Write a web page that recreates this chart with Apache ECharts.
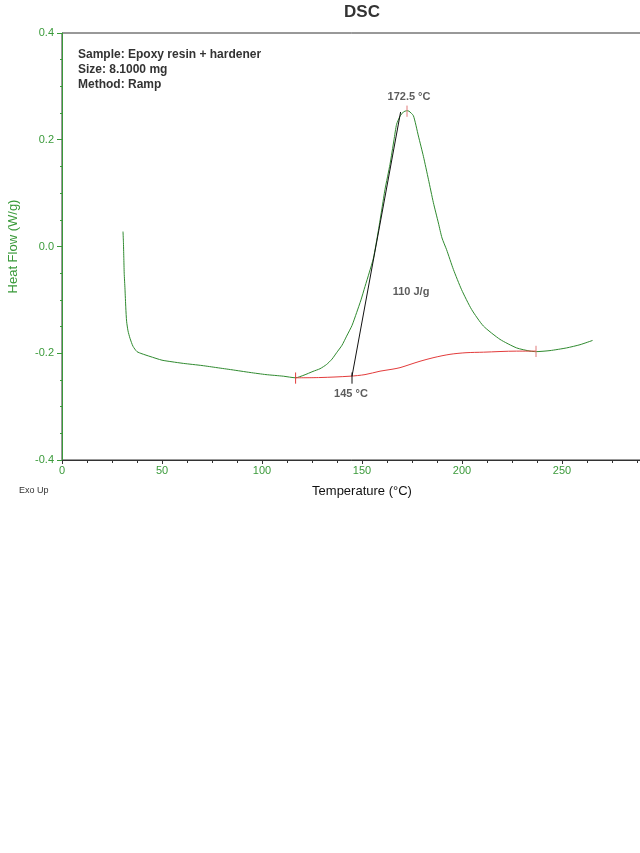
<!DOCTYPE html>
<html>
<head>
<meta charset="utf-8">
<script src="https://cdn.jsdelivr.net/npm/echarts@6/dist/echarts.min.js"></script>
<style>
  html, body { margin: 0; padding: 0; background: #fff; }
  #chart { width: 640px; height: 853px; }
</style>
</head>
<body>
<div id="chart"></div>
<script>
// ---- data ----
const chartTitle = 'DSC';
const xAxisName = 'Temperature (°C)';
const yAxisName = 'Heat Flow (W/g)';
const infoLines = ['Sample: Epoxy resin + hardener', 'Size: 8.1000 mg', 'Method: Ramp'];
const cornerNote = 'Exo Up';

// heat flow curve [temperature °C, heat flow W/g]
const heatFlow = [
  [30.5, 0.028], [30.7, 0.010], [30.9, -0.020], [31.1, -0.050], [31.5, -0.080],
  [31.9, -0.115], [32.3, -0.140], [33.0, -0.158], [34.0, -0.172], [35.5, -0.187],
  [37.5, -0.197], [40.0, -0.201], [44.0, -0.206], [50.0, -0.213], [55.0, -0.216],
  [60.7, -0.219], [70.0, -0.223], [77.5, -0.227], [85.0, -0.231], [94.0, -0.236],
  [102.0, -0.240], [110.7, -0.243], [116.8, -0.246], [121.0, -0.241], [125.5, -0.234],
  [129.0, -0.229], [132.3, -0.221], [135.0, -0.211], [137.3, -0.199], [140.0, -0.185],
  [142.3, -0.168], [145.0, -0.148], [147.3, -0.124], [149.5, -0.100], [151.5, -0.075],
  [153.7, -0.048], [155.7, -0.022], [158.2, 0.030], [160.0, 0.072], [161.5, 0.107],
  [164.0, 0.154], [166.0, 0.200], [167.3, 0.229], [169.0, 0.244], [170.7, 0.252],
  [172.5, 0.2545], [173.5, 0.2535], [175.7, 0.245], [178.2, 0.207], [180.7, 0.169],
  [183.2, 0.126], [185.7, 0.082], [188.2, 0.044], [190.0, 0.016], [192.3, -0.006],
  [195.7, -0.043], [199.8, -0.081], [204.8, -0.118], [210.7, -0.149], [219.0, -0.174],
  [227.3, -0.190], [234.0, -0.196], [237.0, -0.197], [244.0, -0.195], [252.3, -0.190],
  [259.0, -0.184], [265.3, -0.176]
];

// integration baseline
const baseline = [
  [116.8, -0.246], [129.0, -0.2455], [144.0, -0.243], [151.5, -0.240], [159.0, -0.2336],
  [165.0, -0.230], [169.0, -0.227], [174.0, -0.221], [179.0, -0.215], [186.0, -0.208],
  [194.0, -0.202], [202.0, -0.199], [210.7, -0.198], [227.3, -0.196], [237.0, -0.196]
];

// onset tangent
const tangent = [[145.0, -0.243], [169.3, 0.252]];

// small vertical markers
const startMarker = [[116.8, -0.236], [116.8, -0.257]];
const endMarker = [[237.0, -0.186], [237.0, -0.207]];
const peakMarker = [[172.5, 0.243], [172.5, 0.264]];
const onsetMarker = [[145.0, -0.236], [145.0, -0.257]];

// annotation labels [x, y, text]
const annotations = [
  [173.5, 0.281, '172.5 °C'],
  [174.5, -0.086, '110 J/g'],
  [144.5, -0.277, '145 °C']
];

// axis ranges
const xMin = 0, xMax = 300, xStep = 50;
const yMin = -0.4, yMax = 0.4, yStep = 0.2;

// ---- chart ----
const green = '#3a9a3a';
const curveGreen = '#2f8a2f';
const FONT = '"Liberation Sans", Arial, sans-serif';

const chart = echarts.init(document.getElementById('chart'), null, { renderer: 'canvas' });

function seg(name, data, color, smooth, z) {
  return {
    name: name, type: 'line', data: data, showSymbol: false, silent: true,
    smooth: smooth || false,
    lineStyle: { color: color, width: 1 }, animation: false, z: z || 4
  };
}

chart.setOption({
  backgroundColor: '#ffffff',
  animation: false,
  title: {
    text: chartTitle, left: 362, top: 4, padding: 0, textAlign: 'center',
    textStyle: { fontFamily: FONT, fontSize: 17, fontWeight: 'bold', color: '#333' }
  },
  grid: {
    left: 62, top: 33, width: 600, height: 427,
    outerBoundsMode: 'none', containLabel: false,
    show: true, borderColor: '#333', borderWidth: 1, backgroundColor: 'transparent'
  },
  xAxis: {
    type: 'value', min: xMin, max: xMax, interval: xStep,
    name: xAxisName, nameLocation: 'middle', nameGap: 25,
    nameTextStyle: { fontFamily: FONT, fontSize: 13, color: '#111' },
    axisLine: { onZero: false, lineStyle: { color: '#333', width: 1 } },
    axisTick: { show: true, length: 4, lineStyle: { color: '#333' } },
    minorTick: { show: true, splitNumber: 4, length: 3, lineStyle: { color: '#333' } },
    splitLine: { show: false },
    axisLabel: { fontFamily: FONT, fontSize: 11, color: green, margin: 5 }
  },
  yAxis: {
    type: 'value', min: yMin, max: yMax, interval: yStep,
    name: yAxisName, nameLocation: 'middle', nameGap: 42, nameRotate: 90,
    nameTextStyle: { fontFamily: FONT, fontSize: 13, color: green },
    axisLine: { show: true, onZero: false, lineStyle: { color: green, width: 1 } },
    axisTick: { show: true, length: 5, lineStyle: { color: green } },
    minorTick: { show: true, splitNumber: 4, length: 2, lineStyle: { color: green } },
    splitLine: { show: false },
    axisLabel: {
      fontFamily: FONT, fontSize: 11, color: green, margin: 8,
      formatter: v => v.toFixed(1)
    }
  },
  graphic: [
    {
      type: 'text', left: 78, top: 47,
      style: {
        text: infoLines.join('\n'), fontFamily: FONT, fontSize: 12, lineHeight: 15,
        fill: '#333', fontWeight: 'bold'
      }
    },
    {
      type: 'text', left: 19, top: 486,
      style: { text: cornerNote, fontFamily: FONT, fontSize: 9, fill: '#333' }
    }
  ],
  series: [
    seg('Heat Flow', heatFlow, curveGreen, 0.2, 3),
    seg('Baseline', baseline, '#e33b3b', 0.3, 4),
    seg('Tangent', tangent, '#111', false, 5),
    seg('Start', startMarker, '#e33b3b', false, 6),
    seg('End', endMarker, '#e07a7a', false, 6),
    seg('Peak', peakMarker, '#e07a7a', false, 6),
    seg('Onset', onsetMarker, '#111', false, 6),
    {
      name: 'Labels', type: 'scatter', symbolSize: 0, silent: true, z: 7,
      data: annotations.map(a => ({ value: [a[0], a[1]], name: a[2] })),
      label: {
        show: true, position: 'inside', formatter: p => p.name,
        fontFamily: FONT, fontSize: 11, fontWeight: 'bold', color: '#333'
      }
    }
  ]
});
</script>
</body>
</html>
